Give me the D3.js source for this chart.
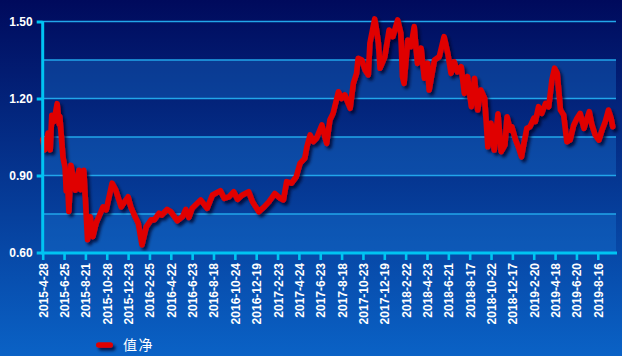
<!DOCTYPE html>
<html><head><meta charset="utf-8">
<script src="https://cdn.jsdelivr.net/npm/d3@7"></script>
<style>html,body{margin:0;padding:0;overflow:hidden;background:#0a3a9a}</style>
</head><body>
<svg id="chart" width="622" height="356"></svg>
<script>
// ---- data ----
const tickLabels = ["2015-4-28","2015-6-25","2015-8-21","2015-10-28","2015-12-23","2016-2-25","2016-4-22","2016-6-23","2016-8-18","2016-10-24","2016-12-19","2017-2-23","2017-4-24","2017-6-23","2017-8-18","2017-10-23","2017-12-19","2018-2-22","2018-4-23","2018-6-21","2018-8-17","2018-10-22","2018-12-17","2019-2-20","2019-4-18","2019-6-20","2019-8-16"];
const tickStep = 40;          // trading days between labelled ticks
const totalDays = 1076;       // trading days covered by the axis
const yTicks = [0.60, 0.90, 1.20, 1.50];
const yGrid = [0.60, 0.75, 0.90, 1.05, 1.20, 1.35, 1.50];
const seriesName = "值净";
// trading-day index of each reading
const navDays = [0,4,10,14,17,21,27,31,32,38,42,44,46,49,53,61,68,71,77,84,89,94,100,113,119,130,137,147,160,165,173,179,186,194,203,209,218,223,233,240,252,262,268,274,280,296,308,318,333,340,349,358,365,374,386,393,405,415,424,435,445,451,457,466,475,482,491,495,501,507,513,523,532,538,544,554,560,566,576,582,588,591,598,604,610,613,622,626,629,632,641,649,656,665,671,674,677,684,690,696,702,709,715,721,724,734,743,752,759,765,771,777,784,790,796,803,809,815,821,828,834,840,846,853,859,866,870,876,879,886,892,897,901,907,913,920,923,929,935,942,948,954,959,964,970,976,982,988,995,1001,1007,1014,1020,1024,1029,1035,1042,1048,1054,1060,1065,1068];
// net value readings
const navValues = [1.04,1.00,1.065,1.00,1.135,1.11,1.18,1.10,1.13,0.97,0.93,0.84,0.90,0.76,0.94,0.843,0.92,0.845,0.92,0.65,0.739,0.662,0.714,0.778,0.766,0.87,0.843,0.778,0.817,0.778,0.739,0.714,0.63,0.70,0.727,0.727,0.753,0.746,0.768,0.759,0.724,0.74,0.768,0.737,0.772,0.805,0.772,0.824,0.841,0.811,0.817,0.837,0.807,0.824,0.837,0.798,0.759,0.778,0.798,0.83,0.811,0.805,0.876,0.87,0.895,0.947,0.967,1.012,1.058,1.032,1.045,1.097,1.025,1.116,1.142,1.226,1.20,1.214,1.162,1.259,1.298,1.357,1.35,1.311,1.292,1.415,1.51,1.46,1.415,1.318,1.363,1.467,1.441,1.506,1.454,1.285,1.259,1.428,1.402,1.48,1.337,1.396,1.279,1.337,1.233,1.35,1.363,1.441,1.376,1.298,1.343,1.304,1.324,1.22,1.285,1.168,1.279,1.155,1.233,1.20,1.012,1.103,0.999,1.14,0.993,1.019,1.129,1.077,1.09,1.038,1.006,0.973,1.019,1.084,1.09,1.123,1.11,1.168,1.142,1.181,1.168,1.272,1.318,1.298,1.155,1.136,1.032,1.038,1.097,1.123,1.142,1.084,1.123,1.149,1.097,1.058,1.038,1.077,1.11,1.155,1.123,1.09];

// ---- drawing ----
const W = 622, H = 356;
const svg = d3.select("#chart");
const defs = svg.append("defs");
const bg = defs.append("linearGradient").attr("id","bg").attr("x1",0).attr("y1",0).attr("x2",0).attr("y2",1);
bg.append("stop").attr("offset","0%").attr("stop-color","#000a5c");
bg.append("stop").attr("offset","100%").attr("stop-color","#0a62c6");
const sh = defs.append("filter").attr("id","shadow").attr("filterUnits","userSpaceOnUse")
  .attr("x",0).attr("y",0).attr("width",W).attr("height",H);
sh.append("feDropShadow").attr("dx",2.5).attr("dy",3).attr("stdDeviation",1.6).attr("flood-color","#000020").attr("flood-opacity",0.75);

svg.append("rect").attr("width",W).attr("height",H).attr("fill","url(#bg)");

const x = d3.scaleLinear().domain([0,totalDays]).range([42.7,617]);
const y = d3.scaleLinear().domain([0.60,1.50]).range([252.5,21.5]);
const plotRight = 616;

// alternating lighter bands
for (let i = 0; i < yGrid.length-1; i += 2) {
  svg.append("rect").attr("x",x(0)).attr("width",plotRight-x(0))
    .attr("y",y(yGrid[i+1])).attr("height",y(yGrid[i])-y(yGrid[i+1]))
    .attr("fill","#1a7ad8").attr("opacity",0.34);
}
// grid lines
svg.append("g").selectAll("line").data(yGrid.slice(1)).join("line")
  .attr("x1",x(0)).attr("x2",plotRight).attr("y1",d=>y(d)).attr("y2",d=>y(d))
  .attr("stroke","#22a6ea").attr("stroke-width",1.6);

// line
const line = d3.line().x((d,i)=>x(navDays[i])).y(d=>y(d)).curve(d3.curveLinear);
svg.append("path").datum(navValues).attr("d",line)
  .attr("fill","none").attr("stroke","#e00000").attr("stroke-width",5.6)
  .attr("stroke-linejoin","round").attr("stroke-linecap","round")
  .attr("filter","url(#shadow)");

// axes
const axisColor = "#00c4f2";
const yAxis = d3.axisLeft(y).tickValues(yTicks).tickFormat(d3.format(".2f")).tickSize(6).tickPadding(4);
const gy = svg.append("g").attr("transform",`translate(${x(0)},0)`).call(yAxis);
gy.select(".domain").attr("stroke",axisColor).attr("stroke-width",3).attr("d",`M0,${y(1.5)-0.5}V${y(0.6)+1.5}`);
gy.selectAll(".tick line").attr("stroke",axisColor).attr("stroke-width",3);
gy.selectAll(".tick text").attr("fill","#ffffff").attr("font-family","Liberation Sans, Arial, sans-serif")
  .attr("font-weight","bold").attr("font-size",12).attr("dy","0.35em");

const tickDays = tickLabels.map((d,i)=>i*tickStep);
const xAxis = d3.axisBottom(x).tickValues(tickDays).tickFormat((d,i)=>tickLabels[i]).tickSize(7);
const gx = svg.append("g").attr("transform",`translate(0,${y(0.6)+0.5})`).call(xAxis);
gx.select(".domain").attr("stroke",axisColor).attr("stroke-width",3).attr("d",`M${x(0)-1.5},0H${x(totalDays)}`);
gx.selectAll(".tick line").attr("stroke",axisColor).attr("stroke-width",2.6);
gx.selectAll(".tick text").attr("fill","#ffffff").attr("font-family","Liberation Sans, Arial, sans-serif")
  .attr("font-weight","bold").attr("font-size",12)
  .attr("text-anchor","end").attr("dy",null).attr("y",null)
  .attr("transform","translate(4.5,10) rotate(-90)");

// legend
const lg = svg.append("g");
lg.append("rect").attr("x",96).attr("y",342.2).attr("width",17).attr("height",5.6).attr("rx",2.8)
  .attr("fill","#e00000").attr("filter","url(#shadow)");
lg.append("text").attr("x",123).attr("y",345).attr("dy","0.36em").text(seriesName)
  .attr("fill","#ffffff").attr("font-family","Noto Sans CJK SC, sans-serif")
  .attr("font-size",14).attr("letter-spacing",1.5);
</script>
</body></html>
